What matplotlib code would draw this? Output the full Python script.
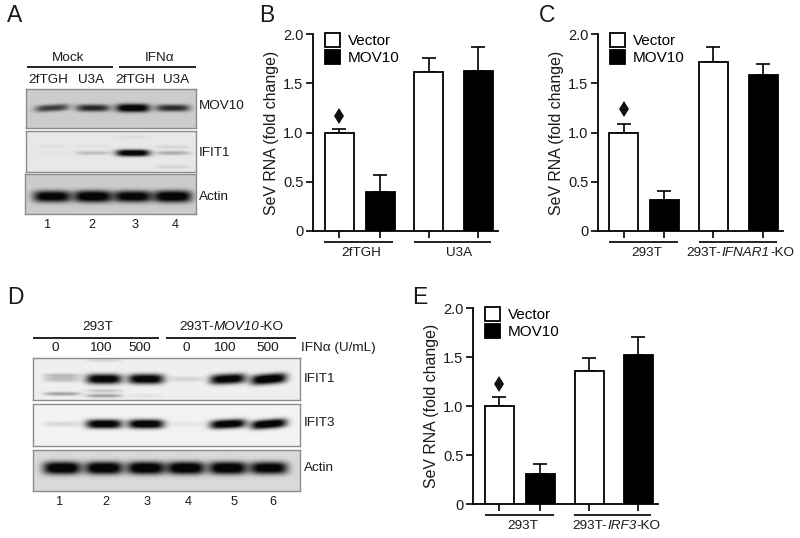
import numpy as np
import matplotlib
matplotlib.use("Agg")
import matplotlib.pyplot as plt
from matplotlib.patches import Patch

plt.rcParams['font.family'] = ['Liberation Sans', 'DejaVu Sans']

series_names = ["Vector", "MOV10"]

b_groups = [[("2fTGH", "normal")], [("U3A", "normal")]]
b_values = [1.00, 0.40, 1.61, 1.62]
b_errors = [0.04, 0.165, 0.145, 0.25]
b_marker = 1.17

c_groups = [[("293T", "normal")],
            [("293T-", "normal"), ("IFNAR1", "italic"), ("-KO", "normal")]]
c_values = [1.00, 0.31, 1.72, 1.58]
c_errors = [0.09, 0.10, 0.15, 0.12]
c_marker = 1.24

e_groups = [[("293T", "normal")],
            [("293T-", "normal"), ("IRF3", "italic"), ("-KO", "normal")]]
e_values = [1.00, 0.31, 1.36, 1.52]
e_errors = [0.09, 0.10, 0.13, 0.18]
e_marker = 1.23

y_ticks = [0, 0.5, 1.0, 1.5, 2.0]
y_ticklabels = ["0", "0.5", "1.0", "1.5", "2.0"]

# Blot band intensities per lane, read by eye
a_lanes = ["1", "2", "3", "4"]
a_cells = ["2fTGH", "U3A", "2fTGH", "U3A"]
a_mov10 = [0.62, 0.72, 1.00, 0.70]
a_ifit1 = [0.02, 0.16, 1.00, 0.22]
a_actin = [0.95, 1.00, 0.95, 1.00]

d_lanes = ["1", "2", "3", "4", "5", "6"]
d_doses = ["0", "100", "500", "0", "100", "500"]
d_ifit1 = [0.18, 0.95, 0.95, 0.10, 0.95, 1.00]
d_ifit3 = [0.10, 0.98, 1.00, 0.05, 0.98, 1.00]
d_actin = [1.00, 1.00, 1.00, 1.00, 1.00, 0.95]

W, H = 800, 538
fig = plt.figure(figsize=(W / 100, H / 100), dpi=100, facecolor='white')

def px_axes(x0, y0, x1, y1, **kw):
    return fig.add_axes([x0 / W, 1 - y1 / H, (x1 - x0) / W, (y1 - y0) / H], **kw)

ov = px_axes(0, 0, W, H, zorder=10)
ov.set_xlim(0, W); ov.set_ylim(H, 0); ov.axis('off'); ov.patch.set_alpha(0)
TXT = '#1a1a1a'
renderer = fig.canvas.get_renderer()

def text(x, y, s, size=9.7, ha='center', **kw):
    return ov.text(x, y, s, fontsize=size, ha=ha, va='center', color=TXT, **kw)

def rich(x, y, parts, size=9.7):
    pieces = [text(0, y, s, size=size, ha='left', style=st) for s, st in parts]
    widths = [p.get_window_extent(renderer).width for p in pieces]
    cur = x - sum(widths) / 2
    for p, w in zip(pieces, widths):
        p.set_x(cur)
        cur += w + 0.3

def hline(x0, x1, y, lw=1.3):
    ov.plot([x0, x1], [y, y], color='#111111', lw=lw, solid_capstyle='butt')

def blot(box, centers, values, band_y, bg, half_w=17, thick=4.5, tilt=(), faint=()):
    x0, y0, x1, y1 = box
    ax = px_axes(x0, y0, x1, y1)
    xs = np.linspace(x0, x1, (x1 - x0) * 2)
    ys = np.linspace(y0, y1, (y1 - y0) * 2)
    X, Y = np.meshgrid(xs, ys)
    img = np.zeros_like(X)
    tilts = list(tilt) + [0] * len(centers)
    for c, v, t in zip(centers, values, tilts):
        px = np.exp(-np.abs((X - c) / half_w) ** 4)
        th = thick * (0.5 + 0.5 * v)
        img += v * px * np.exp(-np.abs((Y - band_y + t * (X - c)) / th) ** 2.6)
    for c, yy, v in faint:
        img += v * np.exp(-np.abs((X - c) / half_w) ** 4) * np.exp(-((Y - yy) / 1.8) ** 2)
    shade = bg - (bg - 0.03) * np.clip(img * 1.2, 0, 1)
    ax.imshow(shade, cmap='gray', vmin=0, vmax=1, aspect='auto',
              extent=(x0, x1, y1, y0), interpolation='bilinear')
    ax.set_xticks([]); ax.set_yticks([])
    for s in ax.spines.values():
        s.set_color('#8c8c8c'); s.set_linewidth(1.0)

def bars(box, values, errors, groups, marker_y, xpos, group_lines, group_x, legend_xy):
    x0, y0, x1, y1 = box
    ax = px_axes(x0, y0, x1, y1)
    ax.set_xlim(x0, x1); ax.set_ylim(0, 2.0)
    ax.patch.set_alpha(0)
    width = 29
    for i, (p, v, e) in enumerate(zip(xpos, values, errors)):
        white = i % 2 == 0
        ax.bar(p, v, width=width, facecolor='white' if white else 'black',
               edgecolor='black', linewidth=1.3, zorder=3)
        ax.errorbar(p, v, yerr=[[0], [e]], color='black', capsize=5.2, capthick=1.2,
                    elinewidth=1.2, zorder=2, fmt='none')
    ax.plot(xpos[0], marker_y, marker='d', color='#111111', ms=8, mew=0, zorder=4)
    for s in ('top', 'right'):
        ax.spines[s].set_visible(False)
    for s in ('left', 'bottom'):
        ax.spines[s].set_linewidth(1.3)
    ax.set_yticks(y_ticks, y_ticklabels, fontsize=10.5, color=TXT)
    ax.set_xticks(xpos, [])
    ax.tick_params(axis='both', width=1.2, length=5, pad=2)
    ax.set_ylabel("SeV RNA (fold change)", fontsize=11.4, color=TXT, labelpad=3)
    for (a, b), gx, g in zip(group_lines, group_x, groups):
        hline(a, b, y1 + 10.5)
        rich(gx, y1 + 22, g)
    handles = [Patch(facecolor='white', edgecolor='black', lw=1.3, label=series_names[0]),
               Patch(facecolor='black', edgecolor='black', lw=1.3, label=series_names[1])]
    ax.legend(handles=handles, loc='upper left', bbox_to_anchor=(legend_xy[0] / W, 1 - legend_xy[1] / H),
              bbox_transform=fig.transFigure, frameon=False, fontsize=11, handlelength=1.0,
              handleheight=1.0, handletextpad=0.5, labelspacing=0.12, borderpad=0, borderaxespad=0)

# Panel letters
for x, y, s in [(15, 16, "A"), (267, 16, "B"), (547, 16, "C"), (15, 297, "D"), (420, 297, "E")]:
    text(x, y, s, size=16.5)

# Panel A
a_x = [52, 93, 133, 173]
hline(27, 113, 67); hline(119, 196, 67)
text(68, 58, "Mock"); text(160, 58, "IFN\u03b1")
for c, s in zip([48, 91, 135, 176], a_cells):
    text(c, 80, s)
blot((26, 89, 196, 128), a_x, a_mov10, 108, 0.80, half_w=17, thick=4.2, tilt=(0.06,))
blot((26, 131, 196, 172), a_x, a_ifit1, 153, 0.91, half_w=17, thick=3.4,
     faint=[(52, 146, 0.03), (93, 146, 0.03), (133, 137, 0.04), (173, 147, 0.08), (173, 167, 0.08)])
blot((25, 174, 196, 214), a_x, a_actin, 196.5, 0.80, half_w=19, thick=6.0)
for lab, y in zip(["MOV10", "IFIT1", "Actin"], [106, 153, 197]):
    text(199, y, lab, ha='left')
for c, s in zip([48, 92, 135, 175], a_lanes):
    text(c, 225, s, size=9.2)

# Panels B, C, E
bars((313, 34, 498, 231), b_values, b_errors, b_groups, b_marker,
     [339, 380, 428.5, 478], [(324, 393), (414, 491)], [361, 459], (325, 33))
bars((598, 34, 783, 231), c_values, c_errors, c_groups, c_marker,
     [623.5, 664, 713, 763], [(609, 678), (699, 777)], [647, 740], (610, 33))
bars((473, 308, 658, 504.3), e_values, e_errors, e_groups, e_marker,
     [499, 540, 589, 638], [(485, 554), (574, 651)], [523, 616], (485, 307))

# Panel D
d_x = [62, 104, 146, 186, 228, 269]
hline(33, 159, 337.5); hline(166, 296, 337.5)
text(98, 327, "293T")
rich(231, 327, [("293T-", "normal"), ("MOV10", "italic"), ("-KO", "normal")])
for c, s in zip([55, 100, 140, 186, 224, 268], d_doses):
    text(c, 348, s)
text(301, 348, "IFN\u03b1 (U/mL)", ha='left')
blot((33, 358, 300, 400), d_x, d_ifit1, 379, 0.94, half_w=18, thick=5.2,
     tilt=(0, 0, 0, 0, 0.05, 0.08),
     faint=[(62, 375, 0.18), (62, 394, 0.3), (104, 396, 0.3), (104, 391, 0.15), (146, 396, 0.05), (104, 360, 0.1)])
blot((33, 404, 300, 446), d_x, d_ifit3, 424, 0.95, half_w=18, thick=4.6,
     tilt=(0, 0, 0, 0, 0.05, 0.08))
blot((33, 450, 300, 491), d_x, d_actin, 468, 0.85, half_w=19, thick=6.5)
for lab, y in zip(["IFIT1", "IFIT3", "Actin"], [379, 423, 468]):
    text(304, y, lab, ha='left')
for c, s in zip([60, 106, 147, 188, 234, 273], d_lanes):
    text(c, 502, s, size=9.2)

fig.savefig("out.png", dpi=100, facecolor='white')
